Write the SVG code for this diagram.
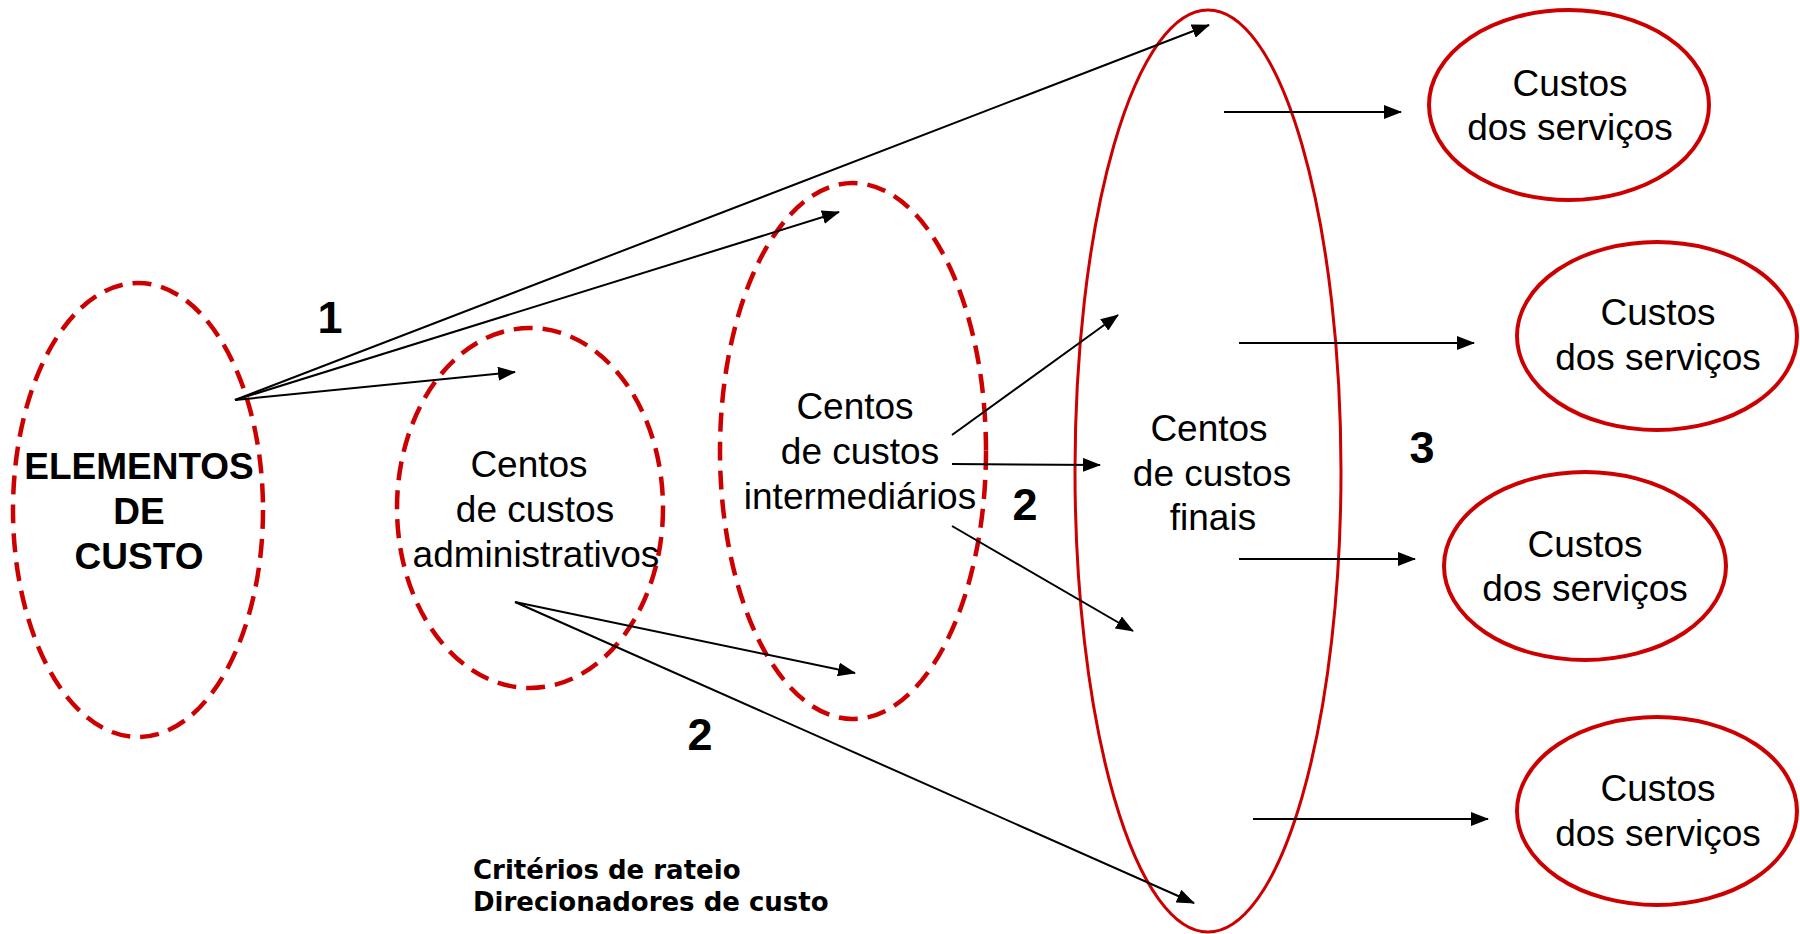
<svg xmlns="http://www.w3.org/2000/svg" width="1800" height="934" viewBox="0 0 1800 934">
<defs>
<style>
.dash{fill:none;stroke:#CC0000;stroke-width:4.5;stroke-dasharray:19 10}
.solid{fill:none;stroke:#CC0000;stroke-width:3}
.svc{fill:none;stroke:#CC0000;stroke-width:4}
.t{font-family:"Liberation Sans",Arial,sans-serif;font-size:37px;fill:#000;text-anchor:middle}
.b{font-weight:bold}
.num{font-family:"Liberation Sans",Arial,sans-serif;font-size:45px;font-weight:bold;fill:#000;text-anchor:middle}
.note{font-family:"DejaVu Sans",Verdana,sans-serif;font-size:26px;font-weight:bold;fill:#000}
.c{stroke:#000;stroke-width:2;fill:none;marker-end:url(#ah)}
</style>
<marker id="ah" markerUnits="userSpaceOnUse" markerWidth="18" markerHeight="14" refX="17" refY="7" orient="auto">
<path d="M0,0 L18,7 L0,14 Z" fill="#000"/>
</marker>
</defs>
<rect width="1800" height="934" fill="#fff"/>

<g id="elementos">
<ellipse class="dash" cx="138" cy="510" rx="125" ry="227"/>
<text class="t b" x="139" y="479">ELEMENTOS</text>
<text class="t b" x="139" y="524">DE</text>
<text class="t b" x="139" y="569">CUSTO</text>
</g>

<g id="administrativos">
<ellipse class="dash" cx="530" cy="508" rx="133" ry="180"/>
<text class="t" x="529" y="477">Centos</text>
<text class="t" x="535" y="522">de custos</text>
<text class="t" x="536" y="567">administrativos</text>
</g>

<g id="intermediarios">
<ellipse class="dash" cx="853" cy="451" rx="133" ry="268"/>
<text class="t" x="855" y="419">Centos</text>
<text class="t" x="860" y="464">de custos</text>
<text class="t" x="860" y="509">intermediários</text>
</g>

<g id="finais">
<ellipse class="solid" cx="1208" cy="471" rx="133" ry="461"/>
<text class="t" x="1209" y="441">Centos</text>
<text class="t" x="1212" y="486">de custos</text>
<text class="t" x="1213" y="530">finais</text>
</g>

<g id="servico1">
<ellipse class="svc" cx="1569" cy="105" rx="140" ry="95"/>
<text class="t" x="1570" y="96">Custos</text>
<text class="t" x="1570" y="140">dos serviços</text>
</g>
<g id="servico2">
<ellipse class="svc" cx="1657" cy="336" rx="140" ry="94"/>
<text class="t" x="1658" y="325">Custos</text>
<text class="t" x="1658" y="370">dos serviços</text>
</g>
<g id="servico3">
<ellipse class="svc" cx="1585" cy="566" rx="141" ry="94"/>
<text class="t" x="1585" y="557">Custos</text>
<text class="t" x="1585" y="601">dos serviços</text>
</g>
<g id="servico4">
<ellipse class="svc" cx="1657" cy="811" rx="140" ry="94"/>
<text class="t" x="1658" y="801">Custos</text>
<text class="t" x="1658" y="846">dos serviços</text>
</g>

<g id="connectors">
<line class="c" x1="235" y1="400" x2="1209" y2="25"/>
<line class="c" x1="235" y1="400" x2="839" y2="212"/>
<line class="c" x1="235" y1="400" x2="515" y2="372"/>
<line class="c" x1="952" y1="435" x2="1118" y2="315"/>
<line class="c" x1="952" y1="464" x2="1100" y2="465"/>
<line class="c" x1="952" y1="526" x2="1133" y2="631"/>
<line class="c" x1="515" y1="602" x2="855" y2="673"/>
<line class="c" x1="515" y1="602" x2="1194" y2="903"/>
<line class="c" x1="1224" y1="112" x2="1401" y2="112"/>
<line class="c" x1="1239" y1="343" x2="1474" y2="343"/>
<line class="c" x1="1239" y1="559" x2="1415" y2="559"/>
<line class="c" x1="1253" y1="819" x2="1488" y2="819"/>
</g>

<g id="labels">
<text class="num" x="330" y="333">1</text>
<text class="num" x="1025" y="520">2</text>
<text class="num" x="700" y="750">2</text>
<text class="num" x="1422" y="463">3</text>
<text class="note" x="473" y="879">Critérios de rateio</text>
<text class="note" x="473" y="911">Direcionadores de custo</text>
</g>
</svg>
